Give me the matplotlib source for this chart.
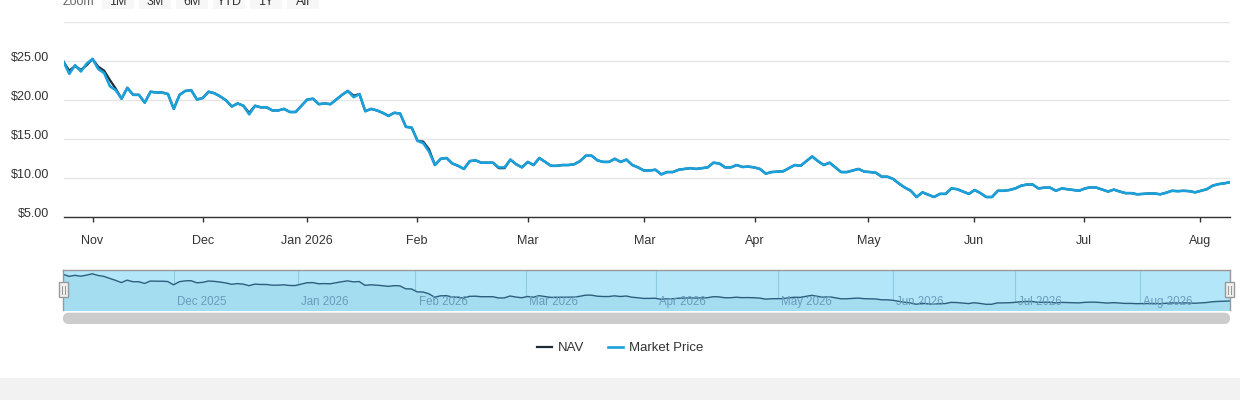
import numpy as np
import matplotlib
matplotlib.use("Agg")
import matplotlib.pyplot as plt
from matplotlib.patches import Rectangle, FancyBboxPatch

plt.rcParams['font.family'] = ['Liberation Sans', 'DejaVu Sans']

# daily closes (trading days, Oct 2025 - Aug 2026)
market_price = [
    24.95, 23.4, 24.5, 23.7, 24.7, 25.3, 24.0, 23.5, 21.8, 21.3,
    20.2, 21.6, 20.7, 20.7, 19.7, 21.1, 21.0, 21.0, 20.8, 18.9,
    20.7, 21.2, 21.3, 20.1, 20.3, 21.1, 20.9, 20.5, 20.0, 19.2,
    19.6, 19.3, 18.2, 19.3, 19.1, 19.1, 18.7, 18.7, 18.9, 18.5,
    18.5, 19.3, 20.1, 20.2, 19.5, 19.6, 19.5, 20.1, 20.7, 21.2,
    20.4, 20.8, 18.6, 18.9, 18.7, 18.4, 18.0, 18.4, 18.3, 16.6,
    16.5, 14.8, 14.5, 13.4, 11.7, 12.5, 12.6, 11.9, 11.6, 11.2,
    12.2, 12.3, 12.0, 12.0, 12.0, 11.4, 11.4, 12.4, 11.8, 11.4,
    12.1, 11.7, 12.6, 12.1, 11.6, 11.6, 11.7, 11.7, 11.8, 12.2,
    12.9, 12.9, 12.3, 12.1, 12.1, 12.5, 12.1, 12.4, 11.7, 11.4,
    11.0, 11.0, 11.1, 10.5, 10.8, 10.8, 11.1, 11.2, 11.3, 11.2,
    11.3, 11.4, 12.0, 11.9, 11.4, 11.4, 11.7, 11.45, 11.5, 11.4,
    11.2, 10.6, 10.8, 10.85, 10.9, 11.3, 11.7, 11.6, 12.2, 12.8,
    12.2, 11.7, 12.0, 11.4, 10.8, 10.8, 11.0, 11.2, 10.85, 10.8,
    10.7, 10.2, 10.2, 9.9, 9.3, 8.8, 8.4, 7.6, 8.2, 7.9,
    7.6, 8.0, 8.0, 8.7, 8.6, 8.3, 8.0, 8.5, 8.1, 7.6,
    7.6, 8.4, 8.4, 8.5, 8.7, 9.05, 9.2, 9.2, 8.7, 8.8,
    8.8, 8.4, 8.7, 8.6, 8.5, 8.4, 8.7, 8.85, 8.8, 8.55,
    8.3, 8.55, 8.3, 8.1, 8.1, 7.95, 8.0, 8.05, 8.05, 7.95,
    8.15, 8.4, 8.35, 8.4, 8.35, 8.2, 8.4, 8.6, 9.05, 9.25,
    9.35, 9.5,
]

nav = [
    24.95, 23.8, 24.4, 23.9, 24.5, 25.3, 24.3, 23.8, 22.6, 21.5,
    20.2, 21.6, 20.7, 20.7, 19.7, 21.1, 21.0, 21.0, 20.8, 18.9,
    20.7, 21.2, 21.3, 20.1, 20.3, 21.1, 20.9, 20.5, 20.0, 19.2,
    19.6, 19.3, 18.4, 19.3, 19.1, 19.1, 18.7, 18.7, 18.9, 18.5,
    18.5, 19.3, 20.1, 20.2, 19.5, 19.6, 19.5, 20.1, 20.7, 21.2,
    20.6, 20.8, 18.6, 18.9, 18.7, 18.4, 18.0, 18.4, 18.3, 16.6,
    16.5, 14.8, 14.7, 13.7, 11.7, 12.5, 12.6, 11.9, 11.6, 11.2,
    12.2, 12.3, 12.0, 12.0, 12.0, 11.3, 11.3, 12.4, 11.8, 11.4,
    12.1, 11.7, 12.6, 12.1, 11.6, 11.6, 11.7, 11.7, 11.8, 12.2,
    12.9, 12.9, 12.3, 12.1, 12.1, 12.5, 12.1, 12.4, 11.7, 11.4,
    11.0, 11.0, 11.1, 10.5, 10.8, 10.8, 11.1, 11.2, 11.3, 11.2,
    11.3, 11.4, 12.0, 11.9, 11.4, 11.4, 11.7, 11.45, 11.5, 11.4,
    11.2, 10.6, 10.8, 10.85, 10.9, 11.3, 11.7, 11.6, 12.2, 12.8,
    12.2, 11.7, 12.0, 11.4, 10.8, 10.8, 11.0, 11.2, 10.85, 10.8,
    10.7, 10.2, 10.2, 9.9, 9.3, 8.8, 8.4, 7.6, 8.2, 7.9,
    7.6, 8.0, 8.0, 8.7, 8.6, 8.3, 8.0, 8.5, 8.1, 7.6,
    7.6, 8.4, 8.4, 8.5, 8.7, 9.05, 9.2, 9.2, 8.7, 8.8,
    8.8, 8.4, 8.7, 8.6, 8.5, 8.4, 8.7, 8.85, 8.8, 8.55,
    8.3, 8.55, 8.3, 8.1, 8.1, 7.95, 8.0, 8.05, 8.05, 7.95,
    8.15, 8.4, 8.35, 8.4, 8.35, 8.2, 8.4, 8.6, 9.05, 9.25,
    9.35, 9.5,
]

# ordinal axis: tick positions are in trading-day units
x_ticks = [5.0, 24.0, 41.9, 60.9, 80.0, 100.1, 119.1, 138.7, 156.9, 175.9, 195.9]
x_labels = ['Nov', 'Dec', 'Jan 2026', 'Feb', 'Mar', 'Mar', 'Apr', 'May', 'Jun', 'Jul', 'Aug']
y_ticks = [5, 10, 15, 20, 25, 30]
y_labels = ['$5.00', '$10.00', '$15.00', '$20.00', '$25.00', '']

nav_ticks = [19.1, 40.5, 60.7, 79.8, 102.1, 123.1, 143.0, 164.1, 185.5]
nav_labels = ['Dec 2025', 'Jan 2026', 'Feb 2026', 'Mar 2026', 'Apr 2026',
              'May 2026', 'Jun 2026', 'Jul 2026', 'Aug 2026']
zoom_buttons = ['1M', '3M', '6M', 'YTD', '1Y', 'All']

NAV_COLOR = '#1e2b37'
MKT_COLOR = '#1aa0db'
TEXT = '#333333'

W, H = 1240, 400
fig = plt.figure(figsize=(W / 100, H / 100), dpi=100)


def px_axes(l, t, r, b):
    return fig.add_axes([l / W, 1 - b / H, (r - l) / W, (b - t) / H])


days = np.arange(len(market_price))

# ---- main chart
ax = px_axes(63.5, 22.3, 1230, 217.3)
ax.plot(days, nav, color=NAV_COLOR, lw=1.6, label='NAV', zorder=3)
ax.plot(days, market_price, color=MKT_COLOR, lw=1.9, label='Market Price', zorder=4)
ax.set_xlim(0, len(days) - 1)
ax.set_ylim(5, 30)
ax.set_yticks(y_ticks)
ax.set_yticklabels(y_labels)
ax.set_xticks(x_ticks)
ax.set_xticklabels(x_labels)
for lab in ax.get_yticklabels():
    lab.set_verticalalignment('baseline')
ax.grid(axis='y', color='#e6e6e6', lw=1)
ax.set_axisbelow(True)
for s in ['top', 'right', 'left']:
    ax.spines[s].set_visible(False)
ax.spines['bottom'].set_color(TEXT)
ax.spines['bottom'].set_linewidth(1)
ax.tick_params(axis='y', length=0, pad=10.4, labelsize=9, labelcolor=TEXT)
ax.tick_params(axis='x', length=3.8, width=1, color=TEXT, pad=8.6,
               labelsize=9, labelcolor=TEXT)

# ---- navigator
nv = px_axes(63.3, 269.7, 1229.5, 309.5)
nv.set_facecolor('#b3e6f8')
nv.fill_between(days, nav, 0, color='#a4dcf0', lw=0)
nv.plot(days, nav, color='#2c5f7e', lw=1.0)
nv.set_xlim(0, len(days) - 1)
nv.set_ylim(4.57, 27.67)
for pos, lab in zip(nav_ticks, nav_labels):
    nv.axvline(pos, color='#8ccbe4', lw=0.8, zorder=0.5)
    nv.annotate(lab, (pos, 0.2), xycoords=('data', 'axes fraction'),
                xytext=(2.2, 0), textcoords='offset points',
                ha='left', va='center', fontsize=8.3, color='#6a9cbc')
nv.set_xticks([])
nv.set_yticks([])
for s in nv.spines.values():
    s.set_color('#999999')
    s.set_linewidth(1)
nv.spines['bottom'].set_visible(False)

# ---- decorations in pixel space
ov = fig.add_axes([0, 0, 1, 1], zorder=10)
ov.set_xlim(0, W)
ov.set_ylim(H, 0)
ov.axis('off')
ov.patch.set_alpha(0)

ov.add_patch(Rectangle((0, 378), W, 22, color='#f2f2f2', lw=0))

ov.add_patch(FancyBboxPatch((63, 312.7), 1167, 11.3,
                            boxstyle='round,pad=0,rounding_size=5.6',
                            fc='#cccccc', ec='none'))

for hx in (63.5, 1229.3):
    ov.add_patch(Rectangle((hx - 4.2, 282.3), 8.4, 15, fc='#f2f2f2', ec='#999999', lw=1))
    for dx in (-1.3, 1.3):
        ov.plot([hx + dx, hx + dx], [285.5, 294], color='#999999', lw=0.8)

ov.text(63, 4.7, 'Zoom', fontsize=9, color='#666666', va='baseline', ha='left')
bx = 102
for lab in zoom_buttons:
    ov.add_patch(Rectangle((bx, -6), 32, 15.3, fc='#f7f7f7', ec='none'))
    ov.text(bx + 16, 4.7, lab, fontsize=9, color=TEXT, va='baseline', ha='center')
    bx += 37

fig.legend(*ax.get_legend_handles_labels(), loc='center',
           bbox_to_anchor=(0.5, 1 - 348 / H), ncol=2, frameon=False,
           fontsize=9.5, handlelength=1.15, handletextpad=0.45,
           columnspacing=1.75, labelcolor=TEXT)

fig.savefig('out.png', dpi=100)
